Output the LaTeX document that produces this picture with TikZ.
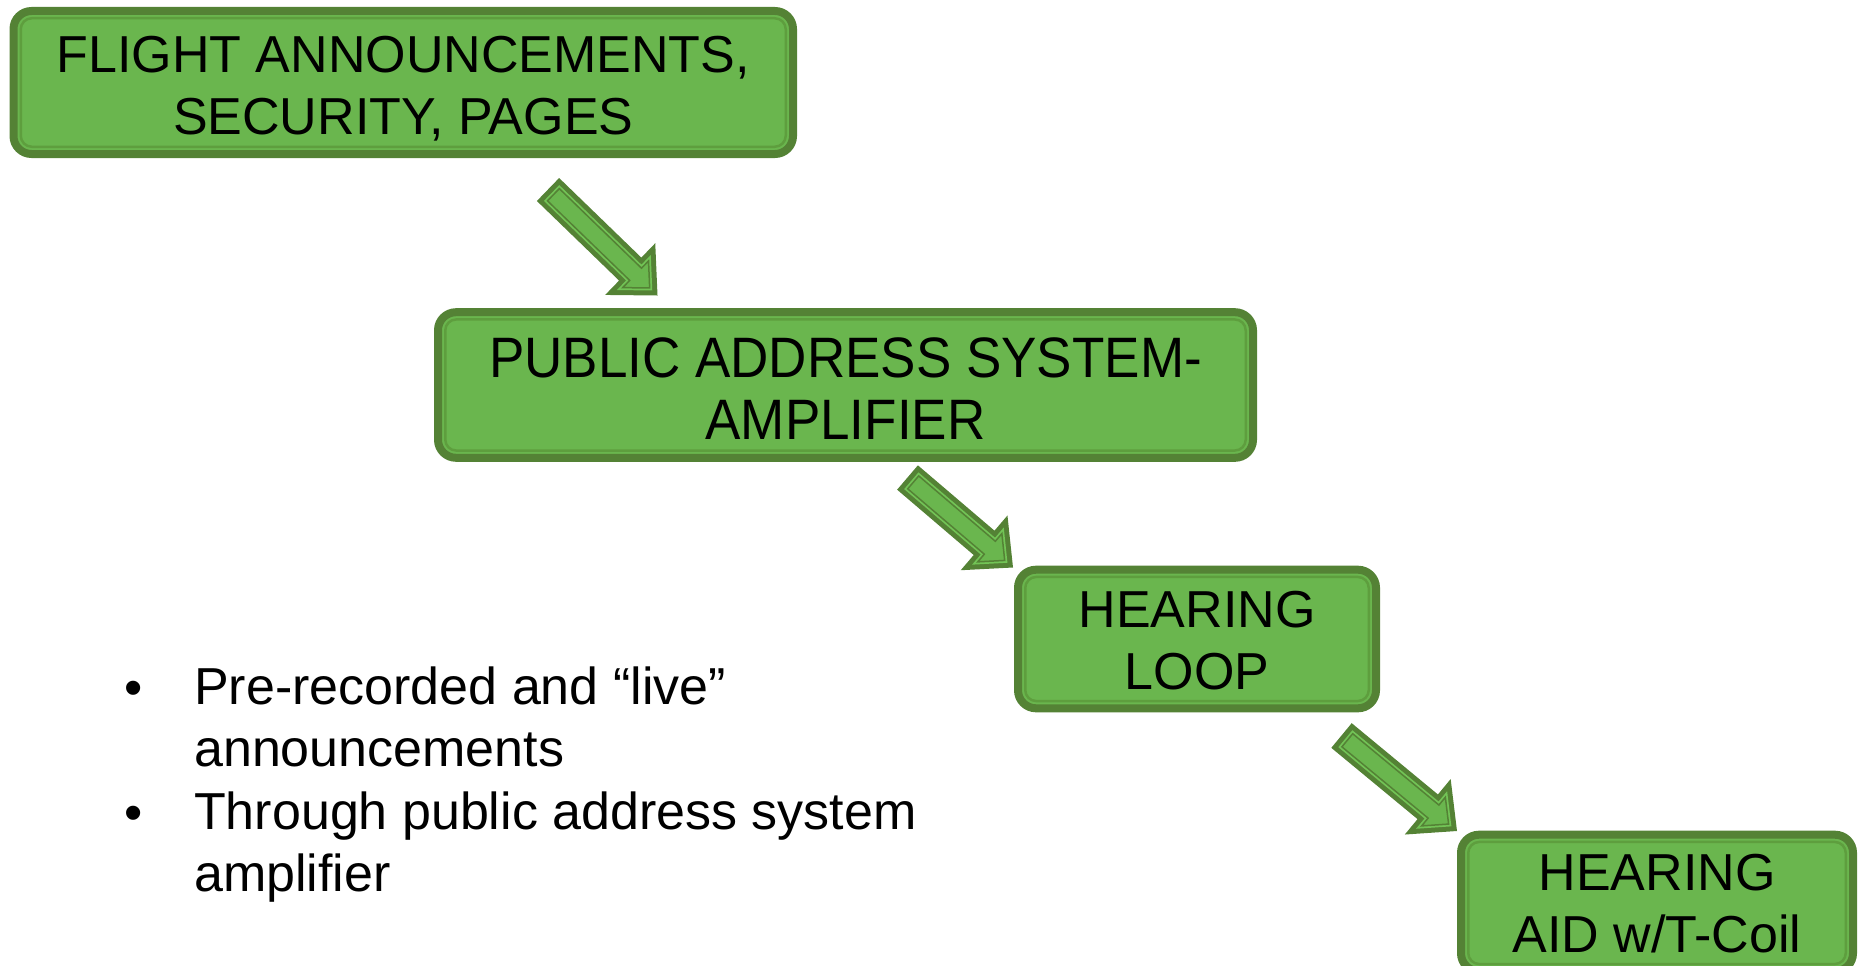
\documentclass[tikz,border=0pt]{standalone}
\usepackage{fontspec}
\usetikzlibrary{calc}
\setmainfont{Liberation Sans}
\newfontfamily\condfont[FakeStretch=0.93]{Liberation Sans}
\definecolor{gdark}{HTML}{548235}
\definecolor{gfill}{HTML}{6AB64E}
\definecolor{gline}{HTML}{5E9E3E}
\definecolor{glight}{HTML}{72C456}
\newcommand\frameinner[1]{%
  \draw[innerframe] ([shift={(7.25,-7.25)}]#1.north west) rectangle ([shift={(-7.25,7.25)}]#1.south east);}
\newcommand\blockarrow[2]{%
  \path let \p1=(#1), \p2=(#2) in \pgfextra{%
    \pgfmathsetmacro\tmpL{veclen(\x2-\x1,\y2-\y1)}%
    \pgfmathsetmacro\tmpA{atan2(\y2-\y1,\x2-\x1)}%
    \xdef\arrL{\tmpL}\xdef\arrA{\tmpA}};
  \begin{scope}[shift={(#1)},rotate=\arrA]
    \fill[gdark] (0,16) -- (\arrL-38,16) -- (\arrL-38,36) -- (\arrL,0) -- (\arrL-38,-36) -- (\arrL-38,-16) -- (0,-16) -- cycle;
    \fill[glight] (5,11) -- (\arrL-33,11) -- (\arrL-33,24.4) -- (\arrL-7.3,0) -- (\arrL-33,-24.4) -- (\arrL-33,-11) -- (5,-11) -- cycle;
    \filldraw[fill=gfill, draw=gdark, line width=1.5pt, line join=miter] (7.5,8.5) -- (\arrL-30.5,8.5) -- (\arrL-30.5,18.6) -- (\arrL-10.9,0) -- (\arrL-30.5,-18.6) -- (\arrL-30.5,-8.5) -- (7.5,-8.5) -- cycle;
  \end{scope}}
\begin{document}
\begin{tikzpicture}[x=1pt,y=1pt,
  boxnode/.style={draw=gdark, line width=8pt, fill=gfill, rounded corners=18pt,
    inner sep=0pt, outer sep=0pt, align=center, font={\fontsize{52}{62}\selectfont}},
  innerframe/.style={draw=gline, line width=2.5pt, rounded corners=11pt},
  listtext/.style={inner sep=0pt, align=left, anchor=west, font={\fontsize{52}{62}\selectfont}},
  bulletmark/.style={inner sep=0pt, anchor=base, font={\fontsize{52}{62}\selectfont}}]
\useasboundingbox (0,0) rectangle (1866,-966);

\node[boxnode, minimum width=779.5, minimum height=143] (b1) at (403.25,-82.5)
  {\rule{0pt}{60pt}FLIGHT ANNOUNCEMENTS,\\SECURITY, PAGES\strut};
\frameinner{b1}
\node[boxnode, minimum width=815, minimum height=140, font={\condfont\fontsize{57}{62}\selectfont}] (b2) at (845.5,-385)
  {\rule{0pt}{65pt}PUBLIC ADDRESS SYSTEM-\\AMPLIFIER\strut};
\frameinner{b2}
\node[boxnode, minimum width=358, minimum height=128] (b3) at (1197,-639)
  {\rule{0pt}{58pt}HEARING\\LOOP\strut};
\frameinner{b3}
\node[boxnode, minimum width=392, minimum height=130] (b4) at (1657,-903)
  {\rule{0pt}{56pt}HEARING\\AID w/T-Coil\strut};
\frameinner{b4}

\coordinate (a1s) at (548,-189.5);
\coordinate (a1e) at (657.5,-295.5);
\coordinate (a2s) at (907.5,-477.5);
\coordinate (a2e) at (1013,-567.5);
\coordinate (a3s) at (1341.5,-735.5);
\coordinate (a3e) at (1457,-831);
\blockarrow{a1s}{a1e}
\blockarrow{a2s}{a2e}
\blockarrow{a3s}{a3e}

\node[bulletmark] (d1) at (134,-705) {•};
\node[listtext] (i1) at (194,-723.5) {\strut Pre-recorded and “live”\\announcements\strut};
\node[bulletmark] (d2) at (134,-830) {•};
\node[listtext] (i2) at (194,-848.5) {\strut Through public address system\\amplifier\strut};
\end{tikzpicture}
\end{document}
